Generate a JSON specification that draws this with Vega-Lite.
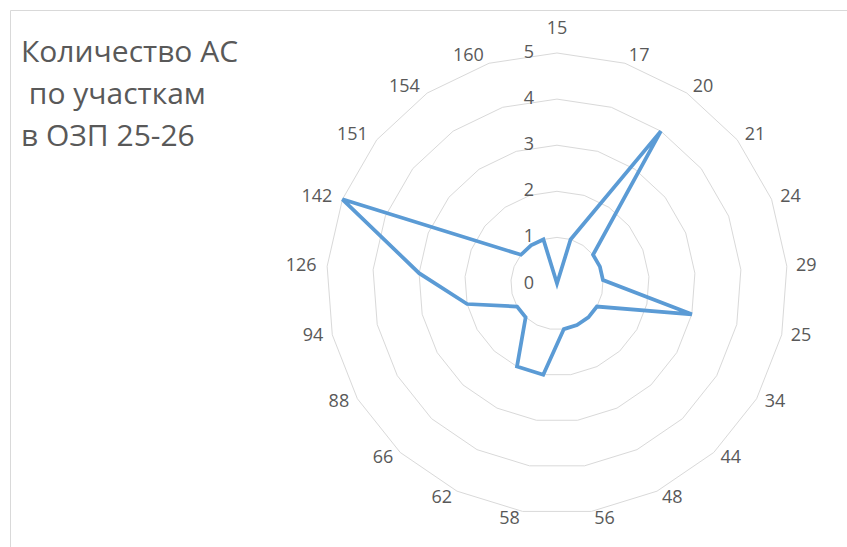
{
  "$schema": "https://vega.github.io/schema/vega-lite/v6.json",
  "width": 837,
  "height": 537,
  "autosize": {"type": "none"},
  "padding": {"left": 10, "top": 10, "right": 0, "bottom": 0},
  "background": "white",
  "config": {"view": {"stroke": "#d9d9d9", "strokeWidth": 1}, "font": "Open Sans"},
  "title": {
    "text": ["Количество АС", "\u200b\u00a0по участкам", "в ОЗП 25-26"],
    "anchor": "start",
    "frame": "group",
    "orient": "top",
    "offset": -142,
    "baseline": "top",
    "dx": 11,
    "font": "Open Sans",
    "fontSize": 30,
    "fontWeight": "normal",
    "color": "#595959",
    "lineHeight": 42
  },
  "data": {
    "values": [
      {"cat": "15", "idx": 0, "value": 0},
      {"cat": "17", "idx": 1, "value": 1},
      {"cat": "20", "idx": 2, "value": 4},
      {"cat": "21", "idx": 3, "value": 1},
      {"cat": "24", "idx": 4, "value": 1},
      {"cat": "29", "idx": 5, "value": 1},
      {"cat": "25", "idx": 6, "value": 3},
      {"cat": "34", "idx": 7, "value": 1},
      {"cat": "44", "idx": 8, "value": 1},
      {"cat": "48", "idx": 9, "value": 1},
      {"cat": "56", "idx": 10, "value": 1},
      {"cat": "58", "idx": 11, "value": 2},
      {"cat": "62", "idx": 12, "value": 2},
      {"cat": "66", "idx": 13, "value": 1},
      {"cat": "88", "idx": 14, "value": 1},
      {"cat": "94", "idx": 15, "value": 2},
      {"cat": "126", "idx": 16, "value": 3},
      {"cat": "142", "idx": 17, "value": 5},
      {"cat": "151", "idx": 18, "value": 1},
      {"cat": "154", "idx": 19, "value": 1},
      {"cat": "160", "idx": 20, "value": 1}
    ]
  },
  "transform": [{"calculate": "datum.idx * 2 * PI / 21", "as": "a"}],
  "layer": [
    {
      "transform": [
        {"calculate": "[1,2,3,4,5]", "as": "lv"},
        {"flatten": ["lv"]},
        {"calculate": "datum.lv * sin(datum.a)", "as": "px"},
        {"calculate": "datum.lv * cos(datum.a)", "as": "py"}
      ],
      "mark": {"type": "line", "interpolate": "linear-closed", "stroke": "#d9d9d9", "strokeWidth": 1},
      "encoding": {
        "x": {"field": "px", "type": "quantitative", "scale": {"domain": [-11.866, 6.291], "nice": false, "zero": false}, "axis": null},
        "y": {"field": "py", "type": "quantitative", "scale": {"domain": [-5.716, 5.933], "nice": false, "zero": false}, "axis": null},
        "detail": {"field": "lv", "type": "nominal"},
        "order": {"field": "idx", "type": "quantitative"}
      }
    },
    {
      "transform": [
        {"filter": "datum.idx == 0"},
        {"calculate": "[0,1,2,3,4,5]", "as": "lv"},
        {"flatten": ["lv"]},
        {"calculate": "0", "as": "px"}
      ],
      "mark": {"type": "text", "dx": -28, "align": "center", "baseline": "middle", "font": "Open Sans", "fontSize": 18, "fill": "#595959"},
      "encoding": {
        "x": {"field": "px", "type": "quantitative", "scale": {"domain": [-11.866, 6.291], "nice": false, "zero": false}, "axis": null},
        "y": {"field": "lv", "type": "quantitative", "scale": {"domain": [-5.716, 5.933], "nice": false, "zero": false}, "axis": null},
        "text": {"field": "lv", "type": "quantitative"}
      }
    },
    {
      "transform": [
        {"calculate": "datum.idx == 0 ? 0 : (sin(datum.a) > 0 ? 1 : -1)", "as": "sg"},
        {"calculate": "(238 * sin(datum.a) + datum.sg * (6.5 * length(datum.cat) - 1)) / 46.1", "as": "px"},
        {"calculate": "(238 * cos(datum.a) + (datum.idx == 0 ? 17 : 0)) / 46.1", "as": "py"}
      ],
      "mark": {"type": "text", "align": "center", "baseline": "middle", "font": "Open Sans", "fontSize": 18, "fill": "#595959"},
      "encoding": {
        "x": {"field": "px", "type": "quantitative", "scale": {"domain": [-11.866, 6.291], "nice": false, "zero": false}, "axis": null},
        "y": {"field": "py", "type": "quantitative", "scale": {"domain": [-5.716, 5.933], "nice": false, "zero": false}, "axis": null},
        "text": {"field": "cat", "type": "nominal"}
      }
    },
    {
      "transform": [
        {"calculate": "datum.value * sin(datum.a)", "as": "px"},
        {"calculate": "datum.value * cos(datum.a)", "as": "py"}
      ],
      "mark": {"type": "line", "interpolate": "linear-closed", "stroke": "#5B9BD5", "strokeWidth": 3.75},
      "encoding": {
        "x": {"field": "px", "type": "quantitative", "scale": {"domain": [-11.866, 6.291], "nice": false, "zero": false}, "axis": null},
        "y": {"field": "py", "type": "quantitative", "scale": {"domain": [-5.716, 5.933], "nice": false, "zero": false}, "axis": null},
        "order": {"field": "idx", "type": "quantitative"}
      }
    }
  ]
}
